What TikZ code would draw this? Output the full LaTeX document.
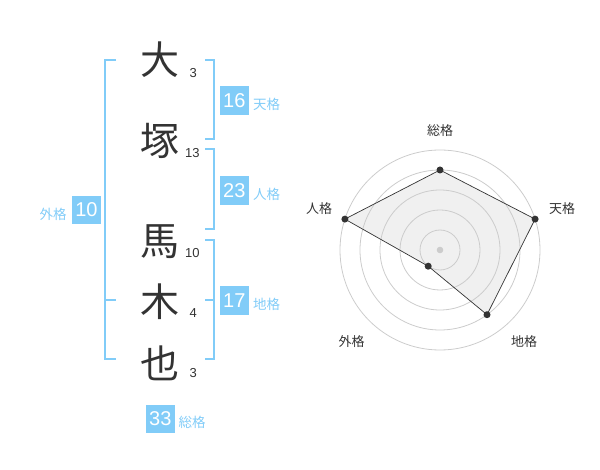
\documentclass[tikz,border=0pt]{standalone}
\usepackage{fontspec}
\setmainfont{Liberation Sans}
\newfontfamily\jp{Noto Sans CJK JP}
\definecolor{bl}{RGB}{129,204,248}
\definecolor{txt}{RGB}{51,51,51}
\definecolor{ring}{RGB}{204,204,204}
\definecolor{polyfill}{RGB}{240,240,240}
\begin{document}
\begin{tikzpicture}[x=1pt,y=-1pt,
  kanji/.style={font=\jp\fontsize{39}{39}\selectfont, text=txt, inner sep=0},
  strokenum/.style={font=\fontsize{13}{13}\selectfont, text=txt, inner sep=0},
  numbox/.style={fill=bl, text=white, minimum width=28.5, minimum height=28.5, inner sep=0, font=\fontsize{20}{20}\selectfont},
  lab/.style={font=\jp\fontsize{13.5}{13.5}\selectfont, text=bl, inner sep=0},
  brk/.style={draw=bl, line width=2},
  rlab/.style={font=\jp\fontsize{13}{13}\selectfont, text=txt, inner sep=0},
  ringline/.style={draw=ring, line width=0.8},
  vdot/.style={fill=txt}]
\useasboundingbox (0,0) rectangle (600,470);
% name characters
\node[kanji] (k1) at (160,60) {大};
\node[kanji] (k2) at (160,140.5) {塚};
\node[kanji] (k3) at (160,241.5) {馬};
\node[kanji] (k4) at (160,302) {木};
\node[kanji] (k5) at (160,363) {也};
% stroke counts
\node[strokenum] (s1) at (193.3,72.7) {3};
\node[strokenum] (s2) at (192.3,152.7) {13};
\node[strokenum] (s3) at (192.3,252.7) {10};
\node[strokenum] (s4) at (193.3,313.3) {4};
\node[strokenum] (s5) at (193.3,373.3) {3};
% brackets
\draw[brk] (116,60) -- (105,60) -- (105,359) -- (116,359);
\draw[brk] (105,300) -- (116,300);
\draw[brk] (205,60) -- (214,60) -- (214,139) -- (205,139);
\draw[brk] (205,149) -- (214,149) -- (214,229) -- (205,229);
\draw[brk] (205,240) -- (214,240) -- (214,359) -- (205,359);
\draw[brk] (205,300) -- (214,300);
% boxes
\node[numbox] (b1) at (234.3,100.3) {16};
\node[lab] (l1) at (266.5,104) {天格};
\node[numbox] (b2) at (234.3,190.3) {23};
\node[lab] (l2) at (266.5,194) {人格};
\node[numbox] (b3) at (234.3,300.3) {17};
\node[lab] (l3) at (266.5,304.3) {地格};
\node[numbox] (b4) at (86.5,210) {10};
\node[lab] (l4) at (53,214) {外格};
\node[numbox] (b5) at (160.3,418.8) {33};
\node[lab] (l5) at (192,422.7) {総格};
% radar
\coordinate (c) at (440,250);
\coordinate (vs) at (440,170);
\coordinate (vt) at (535.1,219.1);
\coordinate (vc) at (487.0,314.7);
\coordinate (vg) at (428.2,266.2);
\coordinate (vj) at (344.9,219.1);
\fill[polyfill] (vs) -- (vt) -- (vc) -- (vg) -- (vj) -- cycle;
\foreach \r in {20,40,60,80,100} \draw[ringline] (c) circle (\r);
\fill[ring] (c) circle (3.3);
\draw[txt, line width=0.7, line join=round] (vs) -- (vt) -- (vc) -- (vg) -- (vj) -- cycle;
\foreach \v in {vs,vt,vc,vg,vj} \fill[vdot] (\v) circle (3.5);
\node[rlab] (rs) at (440,130.5) {総格};
\node[rlab] (rt) at (562,209) {天格};
\node[rlab] (rj) at (319,209) {人格};
\node[rlab] (rc) at (524,341.5) {地格};
\node[rlab] (rg) at (351.5,341.5) {外格};
\end{tikzpicture}
\end{document}
